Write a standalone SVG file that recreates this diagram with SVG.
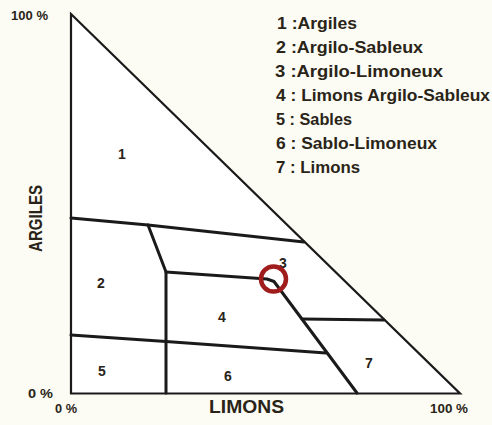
<svg xmlns="http://www.w3.org/2000/svg" width="492" height="425" viewBox="0 0 492 425">
<style>
.t{font-family:"Liberation Sans",Arial,sans-serif;font-weight:bold;fill:#2a2418}
.leg{font-size:17px}
.num{font-size:14px;text-anchor:middle}
.ax{font-size:13px}
.b{fill:none;stroke:#1a1a1a;stroke-width:3;stroke-linejoin:round;stroke-linecap:round}
</style>
<rect width="492" height="425" fill="#fcfcf4"/>
<g id="triangle">
<polygon points="71,14 460,393.5 71,393.5" fill="#ffffff" stroke="#1a1a1a" stroke-width="2.2" stroke-linejoin="miter"/>
</g>
<g id="boundaries">
<polyline class="b" points="71,218 148,225 304,242"/>
<polyline class="b" points="148,225 166,272 166,393"/>
<polyline class="b" points="166,272 267,279 274,281.5 357,393"/>
<polyline class="b" points="71,335 166,341.5 326,353"/>
<polyline class="b" points="302,319 384,320"/>
</g>
<g id="labels">
<text class="t num" x="122" y="159">1</text>
<text class="t num" x="101" y="288">2</text>
<text class="t num" x="283" y="268" font-size="12">3</text>
<text class="t num" x="222" y="322">4</text>
<text class="t num" x="102" y="376">5</text>
<text class="t num" x="228" y="381">6</text>
<text class="t num" x="369" y="368">7</text>
</g>
<g id="marker">
<circle cx="273.5" cy="279" r="12.5" fill="none" stroke="#a01d1d" stroke-width="4.5"/>
</g>
<g id="legend">
<text class="t leg" x="277" y="29" textLength="80" lengthAdjust="spacingAndGlyphs">1 :Argiles</text>
<text class="t leg" x="276" y="53" textLength="147" lengthAdjust="spacingAndGlyphs">2 :Argilo-Sableux</text>
<text class="t leg" x="275" y="77" textLength="168" lengthAdjust="spacingAndGlyphs">3 :Argilo-Limoneux</text>
<text class="t leg" x="276" y="101" textLength="214" lengthAdjust="spacingAndGlyphs">4 : Limons Argilo-Sableux</text>
<text class="t leg" x="276" y="125" textLength="76" lengthAdjust="spacingAndGlyphs">5 : Sables</text>
<text class="t leg" x="276" y="149" textLength="161" lengthAdjust="spacingAndGlyphs">6 : Sablo-Limoneux</text>
<text class="t leg" x="276" y="173" textLength="84" lengthAdjust="spacingAndGlyphs">7 : Limons</text>
</g>
<g id="axes">
<text class="t ax" x="11" y="20" textLength="37" lengthAdjust="spacingAndGlyphs">100 %</text>
<text class="t ax" x="28" y="398" font-size="12" textLength="25" lengthAdjust="spacingAndGlyphs">0 %</text>
<text class="t ax" x="55" y="413" font-size="12" textLength="22" lengthAdjust="spacingAndGlyphs">0 %</text>
<text class="t ax" x="430" y="413" font-size="12" textLength="38" lengthAdjust="spacingAndGlyphs">100 %</text>
<text class="t" x="209" y="413" font-size="18" textLength="75" lengthAdjust="spacingAndGlyphs">LIMONS</text>
<text class="t" transform="translate(42,252) rotate(-90)" font-size="18" textLength="67" lengthAdjust="spacingAndGlyphs">ARGILES</text>
</g>
</svg>
